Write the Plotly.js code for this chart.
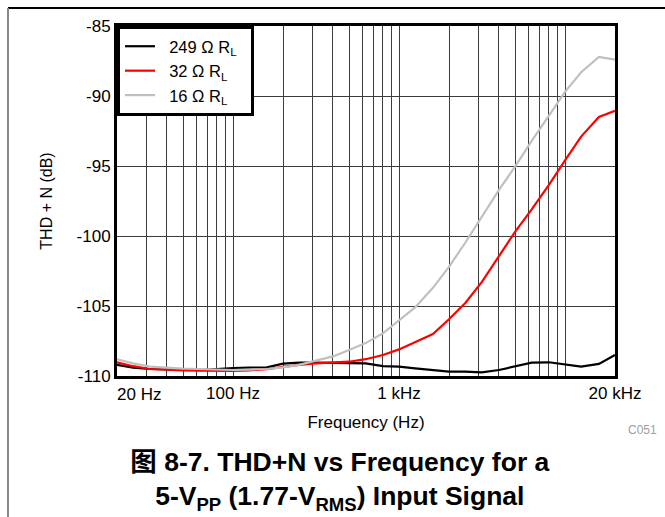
<!DOCTYPE html>
<html><head><meta charset="utf-8">
<script src="https://cdn.plot.ly/plotly-3.0.1.min.js"></script>
<style>html,body{margin:0;padding:0;background:#fff;}#chart{width:665px;height:517px;}</style>
</head><body><div id="chart"></div>
<script>
// Frequency sweep points (Hz)
const freqHz = [20, 25, 31.5, 40, 50, 63, 80, 100, 125, 160, 200, 250, 315, 400, 500, 630, 800,
  1000, 1250, 1600, 2000, 2500, 3150, 4000, 5000, 6300, 8000, 10000, 12500, 16000, 20000];
// THD+N (dB) per load
const thd249 = [-109.2, -109.4, -109.5, -109.55, -109.57, -109.57, -109.47, -109.43, -109.4, -109.38, -109.12,
  -109.05, -109.05, -109.05, -109.05, -109.1, -109.3, -109.33, -109.45, -109.57, -109.69, -109.69, -109.74,
  -109.57, -109.33, -109.05, -109.02, -109.19, -109.33, -109.14, -108.5];
const thd32 = [-109.02, -109.3, -109.5, -109.57, -109.6, -109.62, -109.64, -109.64, -109.6, -109.52, -109.35,
  -109.2, -109.1, -109.05, -108.98, -108.8, -108.5, -108.1, -107.6, -107.0, -105.95, -104.8, -103.3,
  -101.4, -99.7, -98.1, -96.35, -94.6, -92.9, -91.5, -91.05];
const thd16 = [-108.8, -109.1, -109.33, -109.42, -109.48, -109.5, -109.55, -109.57, -109.55, -109.5, -109.38,
  -109.2, -108.9, -108.6, -108.15, -107.65, -106.95, -106.05, -105.1, -103.7, -102.2, -100.5, -98.6,
  -96.7, -95.05, -93.2, -91.4, -89.7, -88.3, -87.2, -87.4];
const seriesNames = ['249 Ω R<sub>L</sub>', '32 Ω R<sub>L</sub>', '16 Ω R<sub>L</sub>'];
const seriesColors = ['#000000', '#ff0000', '#c0c0c0'];

// Axis ticks / grid
const xGridVals = [20, 30, 40, 50, 60, 70, 80, 90, 100, 200, 300, 400, 500, 600, 700, 800, 900,
  1000, 2000, 3000, 4000, 5000, 6000, 7000, 8000, 9000, 10000, 20000];
const xLabelVals = [100, 1000, 20000];
const xLabelText = ['100 Hz', '1 kHz', '20 kHz'];
const xFirstLabelVal = 20;
const xFirstLabelText = '20 Hz';
const yTickVals = [-110, -105, -100, -95, -90, -85];
const yTickText = ['-110', '-105', '-100', '-95', '-90', '-85'];

const xTickText = xGridVals.map(v => {
  const i = xLabelVals.indexOf(v);
  return i >= 0 ? xLabelText[i] : '';
});

const FONT = "Arial, 'Liberation Sans', 'Noto Sans CJK SC', sans-serif";
const NB = '\u00a0\u00a0';
const ys = [thd249, thd32, thd16];
const traces = ys.map((y, i) => ({
  x: freqHz, y: y, type: 'scatter', mode: 'lines', name: NB + seriesNames[i] + NB,
  line: {color: seriesColors[i], width: 2.2}, hoverinfo: 'skip'
}));

const xr = [Math.log10(20), Math.log10(20000)];
const layout = {
  width: 665, height: 517,
  margin: {l: 117, r: 50, t: 26, b: 141},
  paper_bgcolor: '#fff', plot_bgcolor: '#fff',
  font: {family: FONT, size: 17, color: '#000'},
  showlegend: true,
  legend: {x: 0, y: 1, xanchor: 'left', yanchor: 'top', bgcolor: '#fff',
    bordercolor: '#000', borderwidth: 3, font: {size: 16.5, family: FONT},
    tracegroupgap: 0},
  xaxis: {
    type: 'log', range: xr, tickmode: 'array', tickvals: xGridVals, ticktext: xTickText,
    showgrid: true, gridcolor: '#3c3c3c', gridwidth: 1, zeroline: false,
    showline: true, linecolor: '#000', linewidth: 3, mirror: true, ticks: '',
    tickfont: {size: 17}, automargin: false,
    title: {text: 'Frequency (Hz)', font: {size: 17}, standoff: 14}
  },
  yaxis: {
    range: [-110, -85], tickmode: 'array', tickvals: yTickVals, ticktext: yTickText,
    showgrid: true, gridcolor: '#3c3c3c', gridwidth: 1, zeroline: false,
    showline: true, linecolor: '#000', linewidth: 3, mirror: true, ticks: '',
    tickfont: {size: 17}, automargin: false,
    title: {text: 'THD + N (dB)', font: {size: 16}, standoff: 20}
  },
  title: {
    text: '<b>图 8-7. THD+N vs Frequency for a<br>5-V<sub>PP</sub> (1.77-V<sub>RMS</sub>) Input Signal</b>',
    font: {size: 26.5, family: FONT, color: '#000'},
    x: 0.511, xanchor: 'center', xref: 'container',
    y: 0.089, yanchor: 'middle', yref: 'container'
  },
  annotations: [
    {text: xFirstLabelText, xref: 'x', yref: 'paper', x: Math.log10(xFirstLabelVal), y: 0,
      xanchor: 'left', yanchor: 'top', yshift: -7, xshift: -2, showarrow: false,
      font: {size: 17, color: '#000', family: FONT}},
    {text: 'C051', xref: 'paper', yref: 'paper', x: 1.055, y: -0.155,
      xanchor: 'center', yanchor: 'middle', showarrow: false,
      font: {size: 12, color: '#a0a0a0', family: FONT}}
  ],
  shapes: [
    {type: 'line', xref: 'paper', yref: 'paper', x0: -0.2189, x1: 1.11, y0: 1.0514, y1: 1.0514,
      line: {color: '#000', width: 2}},
    {type: 'line', xref: 'paper', yref: 'paper', x0: -0.2189, x1: -0.2189, y0: 1.0514, y1: -0.41,
      line: {color: '#888', width: 2}}
  ]
};
Plotly.newPlot('chart', traces, layout, {staticPlot: true, displayModeBar: false});
</script>
</body></html>
